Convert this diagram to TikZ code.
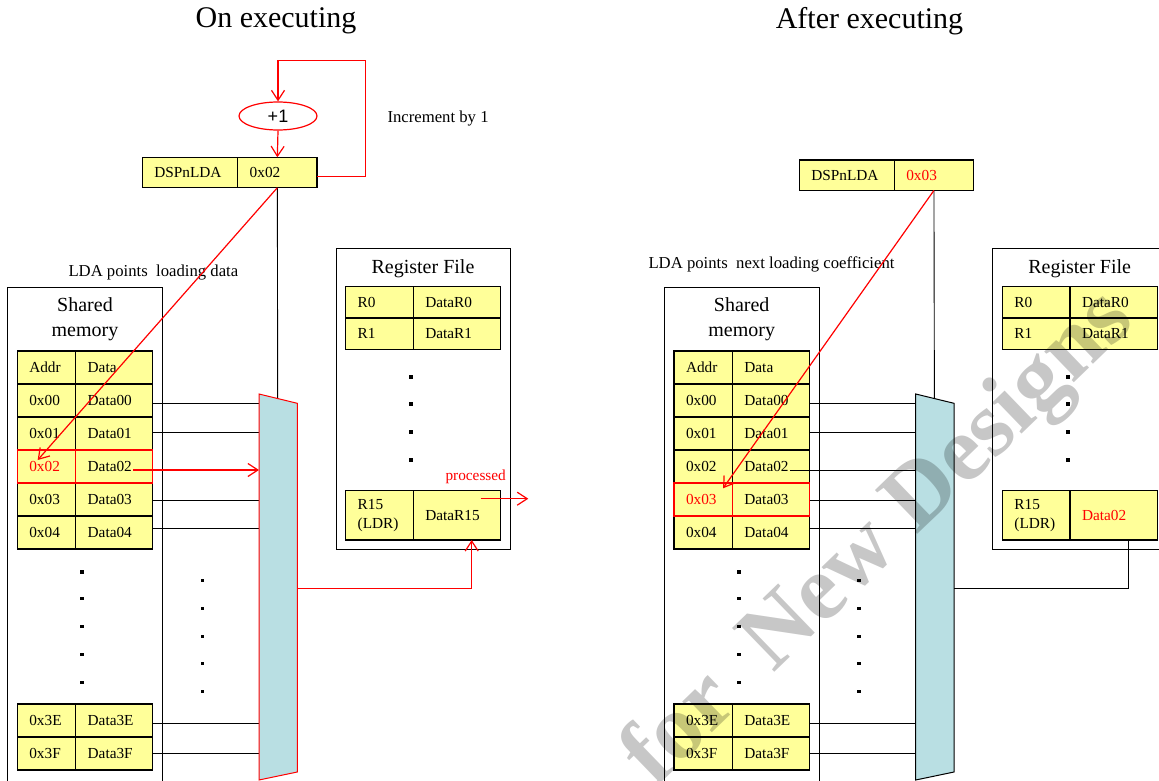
\documentclass[tikz,border=0pt]{standalone}
\usepackage{fontspec}
\setmainfont{Liberation Serif}
\newfontfamily\sansf{Liberation Sans}
\usetikzlibrary{arrows.meta,shapes.geometric,calc}
\definecolor{cellyel}{HTML}{FFFF99}
\definecolor{muxblue}{HTML}{B9DFE3}
\definecolor{wred}{HTML}{FF0000}
\tikzset{
  cellbox/.style={draw=black, line width=1.5pt, fill=cellyel, anchor=north west,
    inner xsep=12pt, inner ysep=0pt, align=left, outer sep=0pt,
    font=\fontsize{15.3}{19}\selectfont},
  acol/.style={cellbox, text width=34.4pt, minimum height=33pt},
  dcol/.style={cellbox, text width=53pt, minimum height=33pt},
  racol/.style={cellbox, text width=43.6pt, minimum height=31.3pt},
  rdcol/.style={cellbox, text width=63.4pt, minimum height=31.3pt},
  lcol/.style={cellbox, text width=71.4pt, minimum height=30.4pt},
  vcol/.style={cellbox, text width=55.3pt, minimum height=30.4pt},
  outline/.style={draw=black, line width=0.9pt},
  wire/.style={draw=black, line width=0.9pt},
  redarrow/.style={draw=wred, line width=1.2pt, -{Straight Barb[length=10pt,width=13pt]}},
  hl/.style={draw=wred, line width=1.3pt},
  note/.style={inner sep=0pt, font=\fontsize{16.7}{19}\selectfont},
  bigtext/.style={inner sep=0pt, align=center, font=\fontsize{20}{25}\selectfont},
  titletext/.style={inner sep=0pt, font=\fontsize{30}{32}\selectfont},
  wmark/.style={rotate=44, text=black, text opacity=0.22, inner sep=0pt,
    font=\bfseries\fontsize{93}{93}\selectfont}
}
\newcommand\sq[2]{\fill (#1-1.8,#2-1.8) rectangle ++(3.6,3.6);}
\newcommand\memrow[5]{%
  \node[acol] (#1#2a) at (17.3,#3) {#4};
  \node[dcol] (#1#2d) at (75.7,#3) {#5};}
% #1 prefix, #2 text of 0x02, #3 text of 0x03
\newcommand\sharedpanel[3]{%
  \draw[outline] (7.7,287.3) rectangle (162.3,800);
  \node[bigtext] (#1mem) at (85,319.5) {Shared\\memory};
  \memrow{#1}{hd}{351}{Addr}{Data}
  \memrow{#1}{00}{384}{0x00}{Data00}
  \memrow{#1}{01}{417}{0x01}{Data01}
  \memrow{#1}{02}{450}{#2}{Data02}
  \memrow{#1}{03}{483}{#3}{Data03}
  \memrow{#1}{04}{516}{0x04}{Data04}
  \memrow{#1}{3E}{704}{0x3E}{Data3E}
  \memrow{#1}{3F}{737}{0x3F}{Data3F}
  \foreach \yy in {571.7,598.3,626.3,654.3,682.3}{\sq{82}{\yy}}
  \foreach \yy in {580.3,608.3,636.3,663.3,691.3}{\sq{202.3}{\yy}}
  \coordinate (#1mTL) at (259,394);
  \coordinate (#1mTR) at (297.3,403.3);
  \coordinate (#1mBR) at (297.3,772);
  \coordinate (#1mBL) at (259,780);
  \coordinate (#1mOut) at (297.3,588.3);
  \coordinate (#1sel) at ($(#1mTL)!0.488!(#1mTR)$);
  \foreach \rw/\s in {00/-2.5,01/1.5,03/-0.5,04/4.5,3E/-2.5,3F/0}{
    \path ([yshift=\s pt]#1\rw d.east) coordinate (tmp);
    \draw[wire] (tmp) -- (tmp -| #1mTL);}
  \path ([xshift=-19.5pt,yshift=-3.5pt]#102d.east) coordinate (#102s);
}
\newcommand\mux[2]{\draw[fill=muxblue, draw=#2, line width=1pt] (#1mTL) -- (#1mTR) -- (#1mBR) -- (#1mBL) -- cycle;}
% #1 prefix, #2 R15 data text
\newcommand\regpanel[2]{%
  \draw[outline] (336,248.3) rectangle (510,549);
  \node[bigtext] (#1regT) at (423,268.3) {Register File};
  \node[racol] (#1R0a) at (345.7,286.7) {R0};
  \node[rdcol] (#1R0d) at (413.3,286.7) {DataR0};
  \node[racol] (#1R1a) at (345.7,318) {R1};
  \node[rdcol] (#1R1d) at (413.3,318) {DataR1};
  \node[racol, minimum height=49.3pt] (#1R15a) at (345.7,490.7) {R15\\(LDR)};
  \node[rdcol, minimum height=49.3pt] (#1R15d) at (413.3,490.7) {#2};
  \foreach \yy in {376.7,404,432,460}{\sq{411}{\yy}}
}
\begin{document}
\begin{tikzpicture}[x=1pt,y=-1pt]
\useasboundingbox (0,0) rectangle (1159,781);
\clip (0,0) rectangle (1159,781);

\node[titletext] (t1) at (276,21) {On executing};
\node[titletext] (t2) at (869.5,21) {After executing};

% ---------------- left: on executing ----------------
\node[ellipse, draw=wred, line width=1.2pt, minimum width=78pt, minimum height=28pt,
  inner sep=0pt, font=\sansf\fontsize{18}{18}\selectfont] (inc) at (278,116) {+1};
\node[lcol] (LLDAa) at (142.3,157.3) {DSPnLDA};
\node[vcol] (LLDAv) at (237.7,157.3) {0x02};
\node[note, anchor=west] (incl) at (387.3,119) {Increment by 1};
\coordinate (fbc) at (365.7,60.7);
\draw[redarrow] ([yshift=-4.2pt]LLDAv.east) -| (fbc) -| (inc.north);
\draw[redarrow] (inc.south) -- (LLDAv.north);

\node[note, anchor=west] (Llab) at (68.3,273) {LDA points~ loading data};
\sharedpanel{L}{\color{wred}0x02}{0x03}
\regpanel{L}{DataR15}
\draw[wire] (LLDAv.south) -- (Lsel);
\mux{L}{wred}
\draw[hl] (L02a.north west) rectangle (L02d.south east) (L02a.north east) -- (L02a.south east);
\draw[redarrow] (L02s) -- (L02s -| LmTL);
\draw[redarrow] (LLDAv.south) -- ([xshift=20.4pt,yshift=-10pt]L02a.north west);
\draw[redarrow] (LmOut) -| ([xshift=14.7pt]LR15d.south);
\node[note, text=wred, font=\fontsize{15.3}{17}\selectfont] (proc) at (475.7,476.7) {processed};
\coordinate (procEnd) at (528.3,498.7);
\draw[redarrow] ([xshift=-20pt,yshift=-8pt]LR15d.north east) -- (procEnd);

% ---------------- right: after executing ----------------
\node[lcol] (RLDAa) at (799.3,160) {DSPnLDA};
\node[vcol] (RLDAv) at (894.3,160) {\color{wred}0x03};
\node[note, anchor=west] (Rlab) at (648.3,264) {LDA points~ next loading coefficient};
\begin{scope}[xshift=656.7pt]
\sharedpanel{R}{0x02}{\color{wred}0x03}
\regpanel{R}{\color{wred}Data02}
\end{scope}
\draw[wire] (RLDAv.south) -- (Rsel);
\draw[wire] (R02s) -- (R02s -| RmTL);
\mux{R}{black}
\draw[hl] (R03a.north west) rectangle (R03d.south east) (R03a.north east) -- (R03a.south east);
\draw[redarrow] (RLDAv.south) -- ([xshift=-9.4pt,yshift=-5.3pt]R03a.north east);
\draw[wire] ([xshift=14.6pt]RR15d.south) |- (RmOut);

% watermark
\node[wmark] (wm) at (880,540) {for\hspace{0.5em}New Designs};
\end{tikzpicture}
\end{document}
